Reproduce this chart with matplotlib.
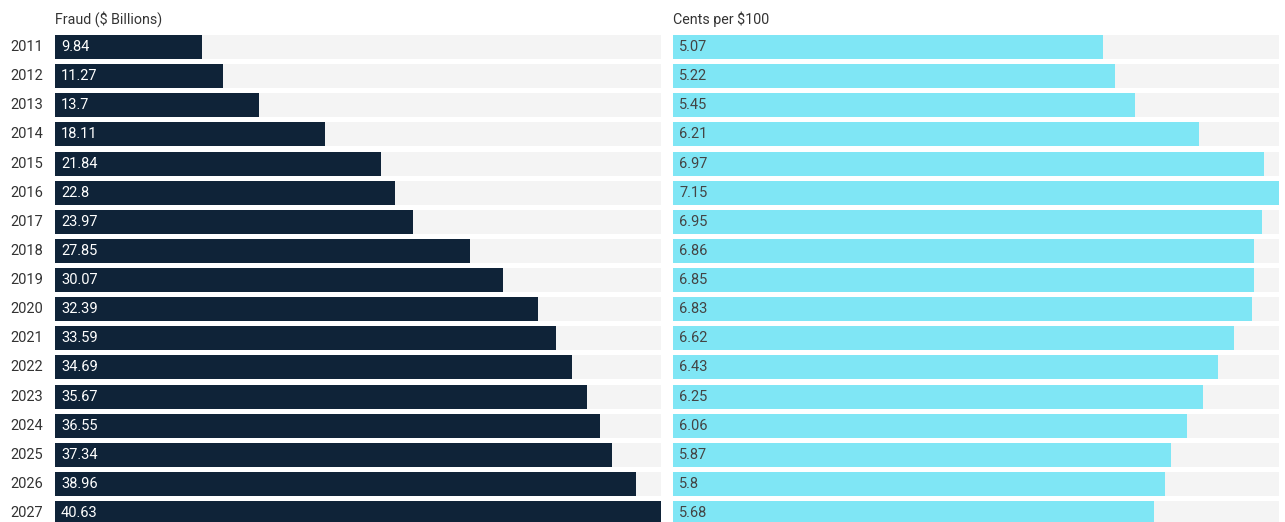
import matplotlib.pyplot as plt
import matplotlib.transforms as mtransforms

years = [2011, 2012, 2013, 2014, 2015, 2016, 2017, 2018, 2019,
         2020, 2021, 2022, 2023, 2024, 2025, 2026, 2027]
fraud = [9.84, 11.27, 13.7, 18.11, 21.84, 22.8, 23.97, 27.85, 30.07,
         32.39, 33.59, 34.69, 35.67, 36.55, 37.34, 38.96, 40.63]
cents = [5.07, 5.22, 5.45, 6.21, 6.97, 7.15, 6.95, 6.86, 6.85,
         6.83, 6.62, 6.43, 6.25, 6.06, 5.87, 5.8, 5.68]

plt.rcParams['font.family'] = ['Roboto', 'DejaVu Sans']

W, H = 1285, 522
fig = plt.figure(figsize=(W / 100, H / 100), dpi=100)
fig.patch.set_facecolor('white')

pitch = 29.13
bar_h = 24 / pitch
top_px = 35
y_top = -bar_h / 2
y_bot = (H - top_px) / pitch + y_top


def panel(left_px, values, color, text_color, title):
    ax = fig.add_axes([left_px / W, 0, 606 / W, (H - top_px) / H])
    vmax = max(values)
    pos = list(range(len(values)))
    # grey track behind each bar, then the value bar
    ax.barh(pos, [vmax] * len(values), height=bar_h, color='#f4f4f4', zorder=1)
    ax.barh(pos, values, height=bar_h, color=color, zorder=2)
    ax.set_xlim(0, vmax)
    ax.set_ylim(y_bot, y_top)
    ax.axis('off')
    off = mtransforms.offset_copy(ax.transData, fig=fig, x=6, y=0, units='dots')
    for p, v in zip(pos, values):
        ax.text(0, p, f'{v:g}', transform=off, ha='left', va='center',
                color=text_color, fontsize=10.5, zorder=3)
    fig.text(left_px / W, 1 - 19 / H, title, ha='left', va='center',
             color='#333333', fontsize=10.3)
    return ax


ax1 = panel(55, fraud, '#0f2338', 'white', 'Fraud ($ Billions)')
panel(673, cents, '#7fe6f5', '#444444', 'Cents per $100')

ylab = mtransforms.offset_copy(ax1.transData, fig=fig, x=-12, y=0, units='dots')
for i, yr in enumerate(years):
    ax1.text(0, i, str(yr), transform=ylab, ha='right', va='center',
             color='#333333', fontsize=10.5, clip_on=False)

fig.savefig('out.png', dpi=100)
